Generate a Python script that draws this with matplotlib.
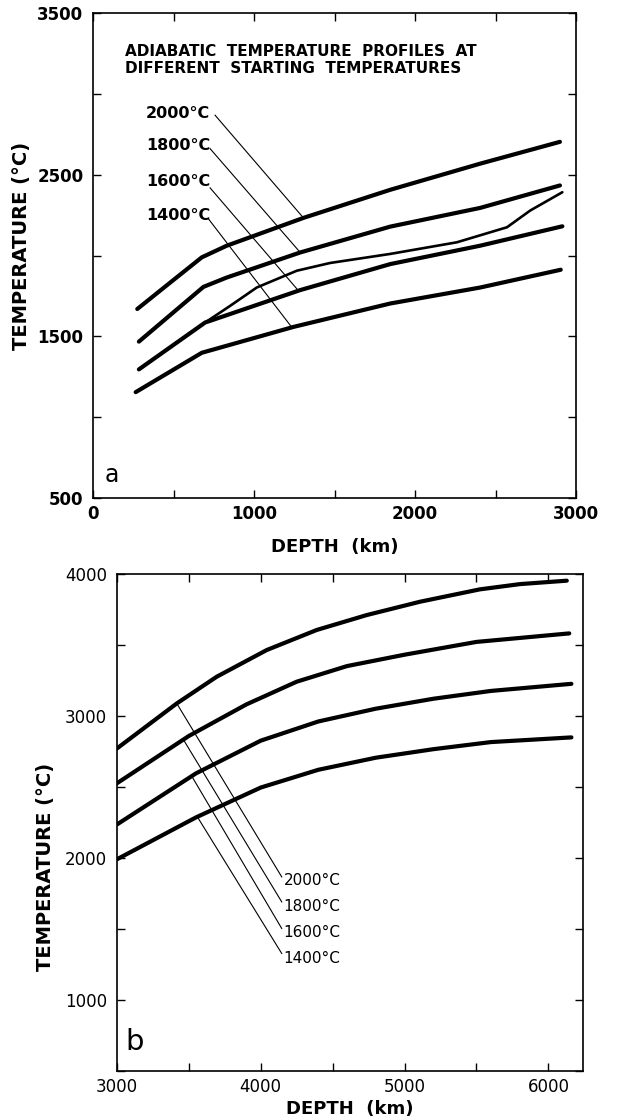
import numpy as np
import matplotlib
matplotlib.use("Agg")
import matplotlib.pyplot as plt

plt.rcParams["font.family"] = ["DejaVu Sans"]

# ---- panel a: mantle, depth (km) vs temperature (deg C)
start_labels = ["2000°C", "1800°C", "1600°C", "1400°C"]

depth_a_2000 = [275, 480, 676, 831, 1307, 1846, 2405, 2900]
temp_a_2000 = [1670, 1834, 1990, 2062, 2234, 2408, 2570, 2705]

depth_a_1800 = [285, 686, 831, 1287, 1846, 2405, 2900]
temp_a_1800 = [1468, 1807, 1865, 2020, 2180, 2296, 2435]

depth_a_1600 = [285, 696, 1287, 1846, 2405, 2915]
temp_a_1600 = [1296, 1586, 1787, 1948, 2062, 2182]

depth_a_1400 = [265, 676, 1245, 1846, 2405, 2905]
temp_a_1400 = [1155, 1399, 1559, 1704, 1803, 1913]

# thinner branch leaving the 1600 profile
depth_a_branch = [696, 851, 1017, 1266, 1473, 1846, 2260, 2571, 2716, 2915]
temp_a_branch = [1586, 1689, 1803, 1907, 1955, 2011, 2083, 2176, 2280, 2393]

# label anchors and leader lines
label_a_temp = [2880, 2683, 2460, 2248]
leader_a_start = [(758, 2870), (727, 2663), (727, 2420), (717, 2228)]
leader_a_end_depth = [1307, 1287, 1276, 1235]

# ---- panel b: core
depth_b_2000 = [3000, 3416, 3694, 4042, 4389, 4737, 5108, 5524, 5803, 6128]
temp_b_2000 = [2770, 3087, 3275, 3463, 3604, 3709, 3803, 3890, 3927, 3951]

depth_b_1800 = [3000, 3500, 3900, 4250, 4600, 5000, 5500, 6145]
temp_b_1800 = [2525, 2858, 3080, 3240, 3350, 3430, 3520, 3580]

depth_b_1600 = [3000, 3550, 4000, 4400, 4800, 5200, 5600, 6160]
temp_b_1600 = [2235, 2595, 2825, 2960, 3050, 3120, 3175, 3225]

depth_b_1400 = [3000, 3550, 4000, 4400, 4800, 5200, 5600, 6160]
temp_b_1400 = [1990, 2285, 2495, 2620, 2705, 2765, 2815, 2848]

leader_b_start_depth = [3416, 3462, 3520, 3559]
leader_b_end = [(4146, 1866), (4146, 1690), (4146, 1503), (4146, 1327)]
label_b_temp = [1838, 1655, 1472, 1292]

fig = plt.figure(figsize=(6.18, 11.2), dpi=100)
ax_a = fig.add_axes([0.1505, 0.5554, 0.7816, 0.4326])
ax_b = fig.add_axes([0.1892, 0.04375, 0.7547, 0.4440])

curve_kw = dict(color="black", lw=3.0, solid_capstyle="round", solid_joinstyle="round")
leader_kw = dict(color="black", lw=0.8)


def style_axes(ax, weight):
    for sp in ax.spines.values():
        sp.set_linewidth(1.2)
    ax.tick_params(which="both", direction="in", top=True, right=True,
                   length=6, width=1.0)
    ax.tick_params(axis="x", which="major", pad=5)
    ax.tick_params(axis="y", which="major", pad=7)
    for lab in ax.get_xticklabels() + ax.get_yticklabels():
        lab.set_fontsize(12)
        lab.set_fontweight(weight)


# panel a
a_curves = [(depth_a_2000, temp_a_2000), (depth_a_1800, temp_a_1800),
            (depth_a_1600, temp_a_1600), (depth_a_1400, temp_a_1400)]
for d, t in a_curves:
    ax_a.plot(d, t, **curve_kw)
ax_a.plot(depth_a_branch, temp_a_branch, color="black", lw=1.9,
          solid_capstyle="round", solid_joinstyle="round")

for (d, t), lab, ly, (sx, sy), ex in zip(a_curves, start_labels, label_a_temp,
                                         leader_a_start, leader_a_end_depth):
    ey = np.interp(ex, d, t)
    ax_a.plot([sx, ex], [sy, ey], **leader_kw)
    ax_a.text(330, ly, lab, fontsize=11.5, fontweight="bold",
              ha="left", va="center")

ax_a.text(199, 3212, "ADIABATIC  TEMPERATURE  PROFILES  AT\nDIFFERENT  STARTING  TEMPERATURES",
          fontsize=11, fontweight="bold", ha="left", va="center", linespacing=1.1)
ax_a.text(118, 640, "a", fontsize=17, ha="center", va="center")

ax_a.set_xlim(0, 3000)
ax_a.set_ylim(500, 3500)
ax_a.set_xticks([0, 1000, 2000, 3000])
ax_a.set_xticks([500, 1500, 2500], minor=True)
ax_a.set_yticks([500, 1500, 2500, 3500])
ax_a.set_yticks([1000, 2000, 3000], minor=True)
style_axes(ax_a, "bold")
ax_a.set_xlabel("DEPTH  (km)", fontsize=13, fontweight="bold")
ax_a.set_ylabel("TEMPERATURE (°C)", fontsize=14, fontweight="bold")
ax_a.xaxis.set_label_coords(0.5, -0.083)
ax_a.yaxis.set_label_coords(-0.128, 0.52)

# panel b
b_curves = [(depth_b_2000, temp_b_2000), (depth_b_1800, temp_b_1800),
            (depth_b_1600, temp_b_1600), (depth_b_1400, temp_b_1400)]
for d, t in b_curves:
    ax_b.plot(d, t, **curve_kw)

for (d, t), lab, ly, sx, (ex, ey) in zip(b_curves, start_labels, label_b_temp,
                                         leader_b_start_depth, leader_b_end):
    sy = np.interp(sx, d, t)
    ax_b.plot([sx, ex], [sy, ey], **leader_kw)
    ax_b.text(ex + 12, ly, lab, fontsize=11, ha="left", va="center")

ax_b.text(3126, 702, "b", fontsize=21, ha="center", va="center")

ax_b.set_xlim(3000, 6243)
ax_b.set_ylim(500, 4000)
ax_b.set_xticks([3000, 4000, 5000, 6000])
ax_b.set_xticks([3500, 4500, 5500], minor=True)
ax_b.set_yticks([1000, 2000, 3000, 4000])
ax_b.set_yticks([500, 1500, 2500, 3500], minor=True)
style_axes(ax_b, "normal")
ax_b.set_xlabel("DEPTH  (km)", fontsize=13, fontweight="bold")
ax_b.set_ylabel("TEMPERATURE (°C)", fontsize=14, fontweight="bold")
ax_b.xaxis.set_label_coords(0.5, -0.058)
ax_b.yaxis.set_label_coords(-0.133, 0.41)

fig.savefig("out.png", dpi=100)
